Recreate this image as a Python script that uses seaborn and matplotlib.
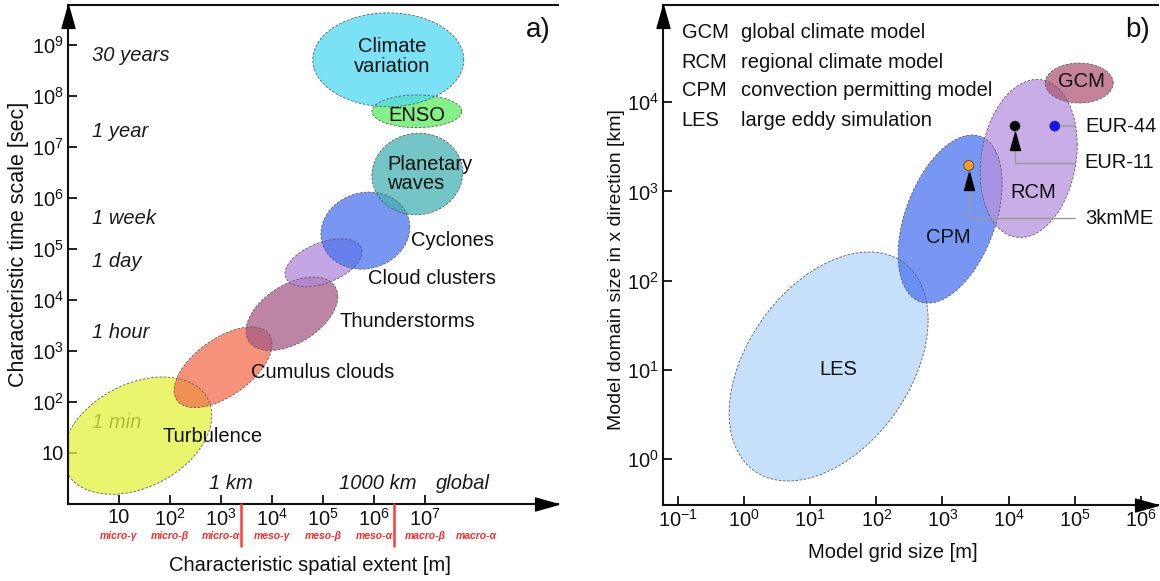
import numpy as np
import pandas as pd
import matplotlib
matplotlib.use("Agg")
import matplotlib.pyplot as plt
import seaborn as sns
from matplotlib.transforms import blended_transform_factory

sns.set_theme(style="white")
plt.rcParams["font.family"] = ["Liberation Sans", "DejaVu Sans"]
plt.rcParams["mathtext.fontset"] = "custom"
plt.rcParams["mathtext.rm"] = "Liberation Sans"
plt.rcParams["mathtext.it"] = "Liberation Sans:italic"
plt.rcParams["mathtext.bf"] = "Liberation Sans:bold"

FS = 14.5

# ---- panel a: atmospheric phenomena (log10 of extent [m] and time [s]) ----
phen_names = ["Turbulence", "Cumulus clouds", "Thunderstorms", "Cloud clusters",
              "Cyclones", "Planetary waves", "ENSO", "Climate variation"]
phen_logx = [1.36, 3.04, 4.39, 5.01, 5.83, 6.85, 6.84, 6.28]
phen_logy = [1.34, 2.68, 3.73, 4.73, 5.36, 6.47, 7.70, 8.71]
phen_spanx = [1.46, 0.96, 0.90, 0.755, 0.87, 0.89, 0.88, 1.48]
phen_spany = [1.15, 0.79, 0.72, 0.47, 0.755, 0.80, 0.32, 0.92]
phen_tilt = [70, 55, 62, 63, 85, 88, 90, 90]
phen_colors = ["#e2f23c", "#f46e4e", "#a65c88", "#b088dc",
               "#4a74f0", "#45b3b3", "#5ceb5c", "#4fd8f2"]
phen_text = ["Turbulence", "Cumulus clouds", "Thunderstorms", "Cloud clusters",
             "Cyclones", "Planetary\nwaves", "ENSO", "Climate\nvariation"]
phen_text_logx = [2.83, 5.00, 6.65, 7.14, 7.53, 7.10, 6.84, 6.35]
phen_text_logy = [1.33, 2.57, 3.57, 4.43, 5.16, 6.47, 7.61, 8.77]

time_labels = ["30 years", "1 year", "1 week", "1 day", "1 hour", "1 min"]
time_seconds = [9.47e8, 3.156e7, 6.048e5, 8.64e4, 3.6e3, 60]

space_labels = ["1 km", "1000 km", "global"]
space_label_x = [10**3.2, 10**6.08, 10**7.75]

extent_exp = [1, 2, 3, 4, 5, 6, 7]
time_exp = [1, 2, 3, 4, 5, 6, 7, 8, 9]
regimes = ["micro-γ", "micro-β", "micro-α", "meso-γ", "meso-β", "meso-α",
           "macro-β", "macro-α"]
regime_x = [1e1, 1e2, 1e3, 1e4, 1e5, 1e6, 1e7, 1e8]
regime_bounds = [2.5e3, 2.5e6]

# ---- panel b: model classes (log10 of grid size [m] and domain size [km]) ----
model_names = ["LES", "CPM", "RCM", "GCM"]
model_full = ["large eddy simulation", "convection permitting model",
              "regional climate model", "global climate model"]
model_logx = [1.278, 3.116, 4.304, 5.068]
model_logy = [1.037, 2.69, 3.369, 4.215]
model_spanx = [1.505, 0.787, 0.734, 0.514]
model_spany = [1.284, 0.942, 0.886, 0.224]
model_tilt = [66, 65, 80, 90]
model_colors = ["#b5d6f8", "#4a74f0", "#b692de", "#b0587a"]
model_text_logx = [1.42, 3.09, 4.37, 5.10]
model_text_logy = [1.00, 2.48, 2.99, 4.23]

run_names = ["EUR-44", "EUR-11", "3kmME"]
run_grid_m = [50000, 12500, 2500]
run_domain_km = [5400, 5400, 1950]
run_colors = ["#1414ff", "#000000", "#ff9c1a"]
run_arrow = [False, True, True]
run_text_offset = [(22, 0), (50, -26.5), (84, -38)]

grid_exp = [-1, 0, 1, 2, 3, 4, 5, 6]
domain_exp = [0, 1, 2, 3, 4]

W, H = 1160, 581
fig = plt.figure(figsize=(W / 100, H / 100), dpi=100)


def px_axes(left, top, right, bottom):
    return fig.add_axes([left / W, 1 - bottom / H, (right - left) / W, (bottom - top) / H])


def ellipse(cx, cy, hx, hy, tilt):
    t = np.linspace(0, 2 * np.pi, 240)
    lx = cx + hx * np.cos(t)
    ly = cy + hy * np.cos(t - np.radians(tilt))
    return pd.DataFrame({"x": 10**lx, "y": 10**ly, "t": t})


def style_axes(ax, xlim, ylim, xticks, xlabels, yticks, ylabels):
    ax.set_xscale("log")
    ax.set_yscale("log")
    ax.set_xlim(*xlim)
    ax.set_ylim(*ylim)
    ax.set_xticks(xticks)
    ax.set_xticklabels(xlabels)
    ax.set_yticks(yticks)
    ax.set_yticklabels(ylabels)
    ax.minorticks_off()
    ax.tick_params(direction="in", length=6.5, width=1.3, labelsize=FS, pad=3,
                   colors="#111111", bottom=True, left=True)
    for side in ["left", "bottom", "top"]:
        ax.spines[side].set_visible(True)
        ax.spines[side].set_color("#111111")
        ax.spines[side].set_linewidth(1.5)
    ax.spines["right"].set_visible(False)
    up = [(0, 0), (-6.5, -23), (6.5, -23), (0, 0)]
    right = [(0, 0), (-23, -6.5), (-23, 6.5), (0, 0)]
    ax.plot([0], [1], marker=up, markersize=33, color="#000000",
            transform=ax.transAxes, clip_on=False, zorder=10)
    ax.plot([1], [0], marker=right, markersize=33, color="#000000",
            transform=ax.transAxes, clip_on=False, zorder=10)


def draw_blobs(ax, cxs, cys, hxs, hys, tilts, colors):
    for cx, cy, hx, hy, tilt, col in zip(cxs, cys, hxs, hys, tilts, colors):
        df = ellipse(cx, cy, hx, hy, tilt)
        ax.fill(df["x"], df["y"], color=col, alpha=0.75, lw=0, zorder=2)
        sns.lineplot(data=df, x="x", y="y", sort=False, estimator=None, ax=ax,
                     color="#5a5a5a", lw=0.6, linestyle=(0, (3, 2)), zorder=2.1)


def pow_label(e, plain_ten=False):
    if plain_ten and e == 1:
        return "10"
    return r"$10^{%d}$" % e


# ---------------- panel a ----------------
axA = px_axes(68, 5, 558, 504)
style_axes(axA, (1, 10**9.608), (1, 10**9.784),
           [10.0**e for e in extent_exp], [pow_label(e, True) for e in extent_exp],
           [10.0**e for e in time_exp], [pow_label(e, True) for e in time_exp])

bA = blended_transform_factory(axA.transAxes, axA.transData)
for lab, sec in zip(time_labels, time_seconds):
    axA.text(0.049, sec, lab, transform=bA, fontsize=FS, style="italic",
             ha="left", va="top", color="#1a1a1a", zorder=1)

draw_blobs(axA, phen_logx, phen_logy, phen_spanx, phen_spany, phen_tilt, phen_colors)

for lab, lx, ly in zip(phen_text, phen_text_logx, phen_text_logy):
    ma = "left" if lab.startswith("Planetary") else "center"
    axA.text(10**lx, 10**ly, lab, fontsize=FS, ha="center", va="center",
             multialignment=ma, color="#111111", zorder=5, linespacing=1.05)

for lab, x in zip(space_labels, space_label_x):
    axA.text(x, 10**0.41, lab, fontsize=FS, style="italic", ha="center",
             va="center", color="#1a1a1a", zorder=5)

tA = blended_transform_factory(axA.transData, axA.transAxes)
for lab, x in zip(regimes, regime_x):
    axA.text(x, -0.064, lab, transform=tA, fontsize=7.5, style="italic",
             weight="bold", color="#ff2a2a", ha="center", va="center", clip_on=False)
for xb in regime_bounds:
    axA.plot([xb, xb], [0, -0.084], transform=tA, color="#ff3b3b", lw=1.8,
             clip_on=False, zorder=9)

axA.set_xlabel("Characteristic spatial extent [m]", fontsize=FS, color="#111111")
axA.xaxis.set_label_coords(0.494, -0.124)
axA.xaxis.label.set_va("center")
axA.set_ylabel("Characteristic time scale [sec]", fontsize=15.5, color="#111111")
axA.yaxis.set_label_coords(-0.102, 0.52)
axA.yaxis.label.set_va("center")

# ---------------- panel b ----------------
axB = px_axes(663, 5, 1158, 505)
style_axes(axB, (10**-1.227, 10**6.26), (10**-0.516, 10**5.09),
           [10.0**e for e in grid_exp], [pow_label(e) for e in grid_exp],
           [10.0**e for e in domain_exp], [pow_label(e) for e in domain_exp])

draw_blobs(axB, model_logx, model_logy, model_spanx, model_spany, model_tilt, model_colors)

for lab, lx, ly in zip(model_names, model_text_logx, model_text_logy):
    axB.text(10**lx, 10**ly, lab, fontsize=FS, ha="center", va="center",
             color="#111111", zorder=5)

# abbreviation key, top-left
for i, (abbr, full) in enumerate(zip(model_names[::-1], model_full[::-1])):
    yk = 0.944 - i * 0.058
    axB.text(0.038, yk, abbr, transform=axB.transAxes, fontsize=FS,
             ha="left", va="center", color="#111111")
    axB.text(0.158, yk, full, transform=axB.transAxes, fontsize=FS,
             ha="left", va="center", color="#111111")

# simulation runs with leader lines
tri = [(0, -6), (-5, -24), (5, -24), (0, -6)]
for name, gx, dy, col, arr, off in zip(run_names, run_grid_m, run_domain_km,
                                       run_colors, run_arrow, run_text_offset):
    if arr:
        conn = "angle,angleA=0,angleB=90,rad=0"
        shrink = 17
    else:
        conn = "arc3"
        shrink = 3
    axB.annotate(name, xy=(gx, dy), xytext=off, textcoords="offset points",
                 fontsize=FS, ha="left", va="center", color="#111111",
                 arrowprops=dict(arrowstyle="-", color="#9a9a9a", lw=1.0,
                                 connectionstyle=conn, shrinkA=5, shrinkB=shrink,
                                 relpos=(0, 0.5)),
                 zorder=6)
    if arr:
        axB.plot([gx], [dy], marker=tri, markersize=34.5, color="#000000",
                 linestyle="none", zorder=7)

sns.scatterplot(x=run_grid_m, y=run_domain_km, hue=run_names, palette=run_colors,
                s=52, edgecolor="#333333", linewidth=0.5, legend=False, ax=axB, zorder=8)

axB.set_xlabel("Model grid size [m]", fontsize=FS, color="#111111")
axB.xaxis.set_label_coords(0.465, -0.096)
axB.xaxis.label.set_va("center")
axB.set_ylabel("Model domain size in x direction [km]", fontsize=14, color="#111111")
axB.yaxis.set_label_coords(-0.093, 0.47)
axB.yaxis.label.set_va("center")

fig.text(538 / W, 1 - 30 / H, "a)", fontsize=20, ha="center", va="center", color="#111111")
fig.text(1138 / W, 1 - 30 / H, "b)", fontsize=20, ha="center", va="center", color="#111111")

fig.savefig("out.png", dpi=100)
